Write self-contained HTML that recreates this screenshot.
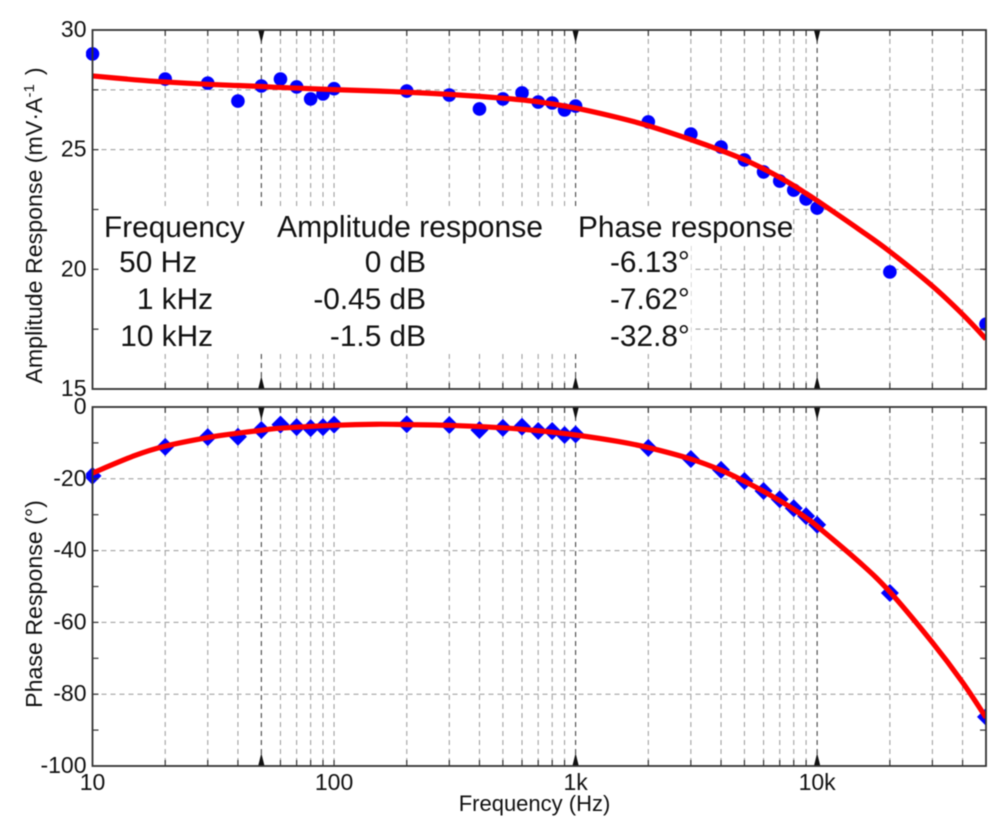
<!DOCTYPE html>
<html lang="en">
<head>
<meta charset="utf-8">
<title>Frequency response chart</title>
<style>
html,body{margin:0;padding:0;background:#fff;}
#chart{display:block;width:1000px;height:832px;filter:blur(0.45px);font-family:"Liberation Sans",Arial,sans-serif;}
text{fill:#111;}
</style>
</head>
<body>
<svg id="chart" xmlns="http://www.w3.org/2000/svg" width="1000" height="832" viewBox="0 0 1000 832">
  <rect x="0" y="0" width="1000" height="832" fill="#fff"/>
  <defs>
    <clipPath id="clip-amp"><rect x="86" y="30" width="900" height="359"/></clipPath>
    <clipPath id="clip-phase"><rect x="86" y="407" width="900" height="359"/></clipPath>
  </defs>
  <g id="grid-layer"></g>
  <g fill="#fff">
    <rect x="100" y="208" width="693" height="35"/>
    <rect x="100" y="245" width="591" height="35"/>
    <rect x="100" y="282" width="591" height="34"/>
    <rect x="100" y="318" width="591" height="34"/>
  </g>
  <g id="mark-layer"></g>
  <g id="axis-layer"></g>

  <g font-size="29.8">
    <text x="104" y="237">Frequency</text>
    <text x="277" y="237" font-size="30.1">Amplitude response</text>
    <text x="578" y="237">Phase response</text>
    <text x="197" y="272" text-anchor="end">50 Hz</text>
    <text x="213" y="309" text-anchor="end">1 kHz</text>
    <text x="213" y="346" text-anchor="end">10 kHz</text>
    <text x="426" y="272" text-anchor="end">0 dB</text>
    <text x="426" y="309" text-anchor="end">-0.45 dB</text>
    <text x="426" y="346" text-anchor="end">-1.5 dB</text>
    <text x="610" y="272">-6.13°</text>
    <text x="610" y="309">-7.62°</text>
    <text x="610" y="346">-32.8°</text>
  </g>

  <text transform="translate(42,225.5) rotate(-90)" text-anchor="middle" font-size="23.2">Amplitude Response (mV·A<tspan font-size="15" dy="-8">-1</tspan><tspan dy="8" dx="9">)</tspan></text>
  <text transform="translate(42,604) rotate(-90)" text-anchor="middle" font-size="23.2">Phase Response (°)</text>
  <text x="534.5" y="811" text-anchor="middle" font-size="22">Frequency (Hz)</text>
</svg>
<script>
// Measured frequencies (Hz)
const measuredFrequencies = [10,20,30,40,50,60,70,80,90,100,200,300,400,500,600,700,800,900,1000,2000,3000,4000,5000,6000,7000,8000,9000,10000,20000,50000];
// Amplitude response, measured (mV/A)
const amplitudeMeasured = [29.0,27.95,27.78,27.03,27.66,27.95,27.62,27.12,27.33,27.55,27.45,27.28,26.7,27.12,27.37,26.99,26.95,26.66,26.82,26.16,25.65,25.11,24.57,24.07,23.69,23.31,22.94,22.56,19.89,17.71];
// Phase response, measured (degrees)
const phaseMeasured = [-19.2,-11.1,-8.4,-8.3,-6.4,-4.9,-5.6,-5.9,-5.6,-4.9,-4.8,-5.0,-6.4,-5.8,-5.5,-6.7,-6.7,-7.8,-7.62,-11.4,-14.5,-17.5,-20.6,-23.4,-25.7,-28.2,-30.4,-32.8,-51.8,-86.3];
// Fitted curves
const fitFrequencies = [10,15,20,30,40,50,60,100,150,200,300,500,700,1000,1500,2000,3000,4000,5000,6000,7000,8000,9000,10000,15000,20000,30000,40000,50000];
const amplitudeFit = [28.08,27.92,27.83,27.73,27.68,27.64,27.6,27.51,27.45,27.4,27.31,27.15,27.0,26.74,26.34,26.0,25.42,24.97,24.58,24.2,23.84,23.5,23.17,22.87,21.65,20.74,19.3,18.12,17.09];
const phaseFit = [-18.4,-13.5,-10.9,-8.5,-7.3,-6.5,-5.9,-5.1,-4.8,-4.9,-5.1,-5.8,-6.6,-7.8,-9.6,-11.3,-14.5,-17.6,-20.7,-23.5,-26.1,-28.5,-30.9,-33.2,-43.3,-51.5,-65.6,-76.7,-86.5];
// Axis ticks
const gridFrequencies = [20,30,40,50,60,70,80,90,100,200,300,400,500,600,700,800,900,1000,2000,3000,4000,5000,6000,7000,8000,9000,10000,20000,30000,40000];
const markedFrequencies = [50,1000,10000];
const xTickLabels = [[10,'10'],[100,'100'],[1000,'1k'],[10000,'10k']];
const amplitudeTicks = [30,25,20,15];
const amplitudeMinorTicks = [27.5,22.5,17.5];
const phaseTicks = [0,-20,-40,-60,-80,-100];
const phaseMinorTicks = [-10,-30,-50,-70,-90];

const NS = 'http://www.w3.org/2000/svg';
const plotLeft = 92.5, plotRight = 986, decadeWidth = 241.55;
const ampTop = 30, ampBottom = 389, phaseTop = 407, phaseBottom = 766;
const xScale = f => plotLeft + Math.log10(f / 10) * decadeWidth;
const yAmp = v => ampTop + (30 - v) / 15 * (ampBottom - ampTop);
const yPhase = v => phaseTop + (0 - v) / 100 * (phaseBottom - phaseTop);
const gridLayer = document.getElementById('grid-layer');
const markLayer = document.getElementById('mark-layer');
const axisLayer = document.getElementById('axis-layer');
function make(tag, props, parent) {
  const e = document.createElementNS(NS, tag);
  for (const k in props) e.setAttribute(k, props[k]);
  parent.appendChild(e);
  return e;
}
// Smooth curve through the read-off samples
function smoothPath(xs, ys, xf, yf) {
  const p = xs.map((f, i) => [xf(f), yf(ys[i])]);
  let d = 'M' + p[0][0] + ',' + p[0][1];
  for (let i = 0; i < p.length - 1; i++) {
    const a = p[Math.max(i - 1, 0)], b = p[i], c = p[i + 1], e = p[Math.min(i + 2, p.length - 1)];
    d += ' C' + (b[0] + (c[0] - a[0]) / 6) + ',' + (b[1] + (c[1] - a[1]) / 6) + ' ' + (c[0] - (e[0] - b[0]) / 6) + ',' + (c[1] - (e[1] - b[1]) / 6) + ' ' + c[0] + ',' + c[1];
  }
  return d;
}
const panels = [
  {id:'amplitude', top:ampTop, bottom:ampBottom, y:yAmp, ticks:amplitudeTicks, minor:amplitudeMinorTicks, minorGrid:true},
  {id:'phase', top:phaseTop, bottom:phaseBottom, y:yPhase, ticks:phaseTicks, minor:phaseMinorTicks, minorGrid:false}
];
panels.forEach(p => {
  // vertical grid and top/bottom ticks
  gridFrequencies.forEach(f => {
    const x = xScale(f);
    const marked = markedFrequencies.includes(f);
    const g = make('line', {x1:x, x2:x, y1:p.top, y2:p.bottom, stroke: marked ? '#333' : '#999', 'stroke-width': 1, 'stroke-dasharray': '5 4'}, gridLayer);
    
    
    [[p.top, p.top + 6], [p.bottom, p.bottom - 6]].forEach(t => {
      const k = make('line', {x1:x, x2:x, y1:t[0], y2:t[1], stroke:'#333', 'stroke-width':1.2}, axisLayer);
      
      
    });
    if (marked) {
      [[p.top, 1], [p.bottom, -1]].forEach(t => {
        const tri = make('polygon', {points: (x-3.2)+','+t[0]+' '+(x+3.2)+','+t[0]+' '+x+','+(t[0]+t[1]*13), fill:'#111'}, axisLayer);
        
        
      });
    }
  });
  // horizontal grid and side ticks
  p.ticks.concat(p.minor).forEach(v => {
    const y = p.y(v);
    if (y > p.top + 1 && y < p.bottom - 1) {
      if (p.ticks.includes(v) || p.minorGrid) {
        const g = make('line', {x1:plotLeft, x2:plotRight, y1:y, y2:y, stroke:'#999', 'stroke-width':1, 'stroke-dasharray':'5 4'}, gridLayer);
        
        
      }
      [[plotLeft, plotLeft + 6], [plotRight, plotRight - 6]].forEach(t => {
        const k = make('line', {x1:t[0], x2:t[1], y1:y, y2:y, stroke:'#333', 'stroke-width':1.2}, axisLayer);
        
        
      });
    }
  });
  // y tick labels
  p.ticks.forEach(v => {
    const t = make('text', {x:86.5, y:p.y(v) + 7, 'text-anchor':'end', 'font-size':23}, axisLayer);
    t.textContent = String(v);
    
    
  });
  // frame
  const frame = make('rect', {x:plotLeft, y:p.top, width:plotRight - plotLeft, height:p.bottom - p.top, fill:'none', stroke:'#333', 'stroke-width':1.8}, axisLayer);
  
  
});
// x tick labels
xTickLabels.forEach(d => {
  const t = make('text', {x:xScale(d[0]), y:790, 'text-anchor':'middle', 'font-size':23}, axisLayer);
  t.textContent = d[1];
  
  
});
// amplitude marks
const ampGroup = make('g', {'clip-path':'url(#clip-amp)'}, markLayer);


measuredFrequencies.forEach((f, i) => {
  const c = make('circle', {cx:xScale(f), cy:yAmp(amplitudeMeasured[i]), r:6.8, fill:'#0000ff'}, ampGroup);
  
  
});
const ampLine = make('path', {d: smoothPath(fitFrequencies, amplitudeFit, xScale, yAmp), fill:'none', stroke:'#ff0000', 'stroke-width':5.2, 'stroke-linejoin':'round'}, ampGroup);


// phase marks
const phaseGroup = make('g', {'clip-path':'url(#clip-phase)'}, markLayer);


measuredFrequencies.forEach((f, i) => {
  const x = xScale(f), y = yPhase(phaseMeasured[i]), d = 9;
  const m = make('polygon', {points: x+','+(y-d)+' '+(x+d)+','+y+' '+x+','+(y+d)+' '+(x-d)+','+y, fill:'#0000ff'}, phaseGroup);
  
  
});
const phaseLine = make('path', {d: smoothPath(fitFrequencies, phaseFit, xScale, yPhase), fill:'none', stroke:'#ff0000', 'stroke-width':5.2, 'stroke-linejoin':'round'}, phaseGroup);


</script>
</body>
</html>
